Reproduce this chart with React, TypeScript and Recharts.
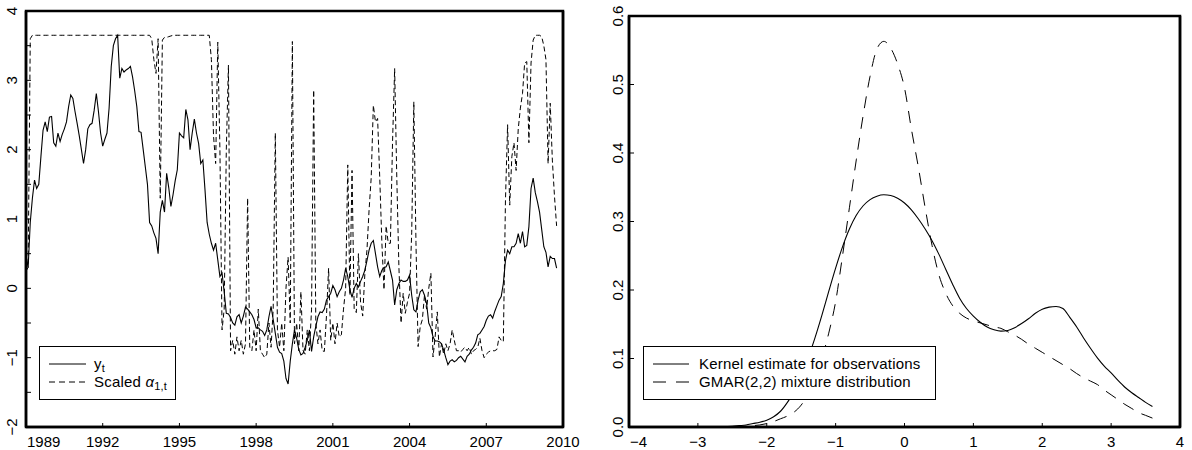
import React from 'react';
import { LineChart, Line, XAxis, YAxis, ReferenceArea } from 'recharts';

const FONT = '"Liberation Sans", Arial, Helvetica, sans-serif';

// monthly observations, first one is 1989:1
const firstYear = 1989;

const yt = [
  0.46, 0.3, 0.95, 1.3, 1.56, 1.44, 1.5, 1.9, 2.28, 2.4, 2.26, 2.47,
  2.48, 2.1, 2.05, 2.24, 2.12, 2.22, 2.3, 2.4, 2.62, 2.79, 2.74, 2.55,
  2.38, 2.2, 2.0, 1.8, 2.0, 2.3, 2.36, 2.38, 2.57, 2.81, 2.55, 2.24,
  2.05, 2.15, 2.24, 2.6, 3.2, 3.5, 3.6, 3.65, 3.03, 3.17, 3.12, 3.15,
  3.17, 3.2, 3.05, 2.85, 2.62, 2.26, 2.25, 2.0, 1.75, 1.5, 0.95, 0.9,
  0.8, 0.72, 0.5, 1.1, 1.27, 1.1, 1.66, 1.45, 1.18, 1.35, 1.55, 1.71,
  2.24, 2.2, 2.17, 2.58, 2.43, 2.0, 2.24, 2.44, 2.24, 2.09, 1.8, 1.85,
  1.42, 0.95, 0.78, 0.65, 0.55, 0.65, 0.41, 0.17, 0.22, -0.05, -0.36, -0.37,
  -0.42, -0.5, -0.53, -0.41, -0.38, -0.5, -0.4, -0.27, -0.3, -0.34, -0.38, -0.45,
  -0.57, -0.57, -0.6, -0.62, -0.68, -0.6, -0.41, -0.26, -0.45, -0.65, -0.85, -0.92,
  -0.94, -1.05, -1.3, -1.38, -1.05, -0.8, -0.6, -0.72, -0.88, -0.96, -0.94, -0.85,
  -0.75, -0.6, -0.91, -0.7, -0.55, -0.41, -0.34, -0.35, -0.3, -0.17, -0.12, -0.07,
  0.04, -0.02, -0.12, -0.05, 0.0, 0.12, 0.29, 0.17, -0.02, -0.13, 0.0, 0.07,
  0.02, 0.1, 0.17, 0.26, 0.4, 0.55, 0.65, 0.69, 0.5, 0.31, 0.17, 0.26,
  0.3, 0.31, 0.38, 0.25, 0.12, -0.24, -0.02, 0.07, 0.12, 0.1, 0.1, 0.12,
  0.19, -0.1, -0.31, -0.34, -0.17, -0.05, -0.02, -0.1, -0.22, -0.5, -0.57, -0.7,
  -0.76, -0.76, -0.77, -0.8, -0.89, -1.0, -1.1, -1.05, -1.03, -1.06, -1.04, -1.0,
  -0.98, -1.02, -1.06, -0.98, -0.95, -0.89, -0.85, -0.79, -0.67, -0.65, -0.6, -0.55,
  -0.46, -0.4, -0.38, -0.43, -0.33, -0.25, -0.17, -0.12, 0.07, 0.4, 0.55, 0.5,
  0.6, 0.6, 0.65, 0.79, 0.65, 0.82, 0.6, 0.62, 0.89, 1.44, 1.59, 1.38,
  1.25, 1.1, 0.85, 0.6, 0.52, 0.31, 0.46, 0.43, 0.43, 0.29,
];

const alphaScaled = [
  0.25, 0.3, 3.6, 3.65, 3.65, 3.65, 3.65, 3.65, 3.65, 3.65, 3.65, 3.65,
  3.65, 3.65, 3.65, 3.65, 3.65, 3.65, 3.65, 3.65, 3.65, 3.65, 3.65, 3.65,
  3.65, 3.65, 3.65, 3.65, 3.65, 3.65, 3.65, 3.65, 3.65, 3.65, 3.65, 3.65,
  3.65, 3.65, 3.65, 3.65, 3.65, 3.65, 3.65, 3.65, 3.65, 3.65, 3.65, 3.65,
  3.65, 3.65, 3.65, 3.65, 3.65, 3.65, 3.65, 3.65, 3.65, 3.65, 3.65, 3.6,
  3.3, 3.1, 3.6, 1.3, 3.58, 3.62, 3.62, 3.63, 3.64, 3.65, 3.65, 3.65,
  3.65, 3.65, 3.65, 3.65, 3.65, 3.65, 3.65, 3.65, 3.65, 3.65, 3.65, 3.65,
  3.65, 3.65, 3.65, 3.3, 2.2, 1.8, 3.55, 2.0, -0.6, -0.3, 2.0, 3.22,
  -0.9, -0.75, -0.95, -0.7, -0.9, -0.75, -0.95, -0.8, 1.3, -0.85, -0.9, -0.6,
  -0.9, -0.3, -0.9, -0.95, -1.0, -0.95, -0.5, -0.85, -0.3, 2.24, -0.6, -0.85,
  -0.5, -0.9, 0.0, 0.45, -0.5, 3.56, -0.8, -0.5, -0.9, -0.05, -0.9, -0.95,
  -0.6, -0.9, -0.3, 2.86, -0.5, -0.8, -0.6, -0.9, -0.91, -0.4, 0.29, -0.75,
  -0.5, -0.8, -0.5, -0.7, -0.67, -0.3, 0.0, 1.78, -0.1, 1.7, -0.3, -0.35,
  0.5, -0.2, -0.4, 0.2, 0.55, 1.13, 1.6, 2.64, 2.4, 2.45, 1.6, 0.66,
  -0.02, 0.9, 0.65, 0.65, 2.1, 3.17, 1.6, 0.3, -0.5, -0.07, -0.36, -0.2,
  -0.07, 0.8, 2.69, 0.66, -0.84, -0.55, -0.45, -0.1, -0.3, 0.0, 0.22, -0.99,
  -0.7, -0.34, -0.99, -0.8, -0.95, -0.8, -0.9, -0.8, -0.6, -0.75, -0.9, -0.9,
  -0.92, -0.88, -0.85, -0.9, -0.85, -0.95, -0.9, -0.88, -0.85, -0.72, -0.9, -1.0,
  -0.95, -0.92, -0.9, -0.9, -0.9, -0.88, -0.7, -0.75, -0.77, 1.27, 2.36, 1.2,
  1.9, 2.1, 1.7, 2.3, 2.6, 2.81, 3.25, 3.27, 2.1, 3.25, 3.58, 3.65,
  3.65, 3.65, 3.63, 3.5, 3.3, 1.8, 2.67, 1.85, 1.33, 0.9,
];

const yearTicks = [1989, 1992, 1995, 1998, 2001, 2004, 2007, 2010];
const innerYearTicks = [1992, 1995, 1998, 2001, 2004, 2007];
const seriesTicks = [-2, -1.5, -1, -0.5, 0, 0.5, 1, 1.5, 2, 2.5, 3, 3.5, 4];

// density evaluation grid
const gridX = [
  -4.0, -3.9, -3.8, -3.7, -3.6, -3.5, -3.4, -3.3, -3.2, -3.1,
  -3.0, -2.9, -2.8, -2.7, -2.6, -2.5, -2.4, -2.3, -2.2, -2.1,
  -2.0, -1.9, -1.8, -1.7, -1.6, -1.5, -1.4, -1.3, -1.2, -1.1,
  -1.0, -0.9, -0.8, -0.7, -0.6, -0.5, -0.4, -0.3, -0.2, -0.1,
  0.0, 0.1, 0.2, 0.3, 0.4, 0.5, 0.6, 0.7, 0.8, 0.9,
  1.0, 1.1, 1.2, 1.3, 1.4, 1.5, 1.6, 1.7, 1.8, 1.9,
  2.0, 2.1, 2.2, 2.3, 2.4, 2.5, 2.6, 2.7, 2.8, 2.9,
  3.0, 3.1, 3.2, 3.3, 3.4, 3.5, 3.6,
];

const kernel = [
  0, 0, 0, 0, 0, 0, 0, 0, 0, 0,
  0, 0, 0, 0, 0.0005, 0.001, 0.002, 0.003, 0.005, 0.007,
  0.01, 0.015, 0.023, 0.036, 0.052, 0.073, 0.1, 0.13, 0.163, 0.198,
  0.232, 0.263, 0.289, 0.309, 0.323, 0.332, 0.337, 0.339, 0.338, 0.334,
  0.327, 0.317, 0.304, 0.289, 0.272, 0.252, 0.23, 0.208, 0.188, 0.173,
  0.162, 0.153, 0.146, 0.142, 0.14, 0.141, 0.145, 0.151, 0.158, 0.166,
  0.172, 0.175, 0.176, 0.173, 0.16, 0.146, 0.13, 0.115, 0.101, 0.089,
  0.079, 0.068, 0.058, 0.05, 0.043, 0.036, 0.03,
];

const gmar = [
  0, 0, 0, 0, 0, 0, 0, 0, 0, 0,
  0, 0, 0, 0, 0, 0, 0.0005, 0.001, 0.002, 0.003,
  0.005, 0.008, 0.012, 0.016, 0.022, 0.032, 0.048, 0.07, 0.1, 0.137,
  0.183, 0.25, 0.32, 0.39, 0.455, 0.512, 0.552, 0.563, 0.553, 0.53,
  0.495, 0.435, 0.38, 0.32, 0.265, 0.222, 0.195, 0.177, 0.166, 0.159,
  0.155, 0.152, 0.149, 0.146, 0.144, 0.139, 0.134, 0.128, 0.121, 0.115,
  0.109, 0.103, 0.097, 0.091, 0.085, 0.078, 0.072, 0.067, 0.062, 0.054,
  0.047, 0.04, 0.033, 0.027, 0.021, 0.017, 0.013,
];

const densityXTicks = [-4, -3, -2, -1, 0, 1, 2, 3, 4];
const innerDensityXTicks = [-3, -2, -1, 0, 1, 2, 3];
const densityYTicks = [0, 0.1, 0.2, 0.3, 0.4, 0.5, 0.6];

const seriesRows = yt.map((v, i) => ({ t: firstYear + i / 12, y: v, a: alphaScaled[i] }));
const densityRows = gridX.map((x, i) => ({ x, k: kernel[i], g: gmar[i] }));

const minus = (s: string) => s.replace('-', '\u2212');

const XTick = (props: any) => {
  const { x, y, payload, first } = props;
  const isFirst = payload.value === first;
  return (
    <text
      x={isFirst ? x + 1 : x}
      y={y}
      dy="0.71em"
      textAnchor={isFirst ? 'start' : 'middle'}
      fontSize={15}
      fontFamily={FONT}
      fill="#000"
    >
      {minus(String(payload.value))}
    </text>
  );
};

const YTick = (props: any) => {
  const { x, y, payload, fmt } = props;
  const label = fmt(payload.value);
  if (label === null) return null;
  return (
    <text
      x={x}
      y={y}
      transform={`rotate(-90 ${x} ${y})`}
      textAnchor="middle"
      fontSize={15}
      fontFamily={FONT}
      fill="#000"
    >
      {label}
    </text>
  );
};

const axisLine = { stroke: '#000', strokeWidth: 2.5 };
const thinAxisLine = { stroke: '#000', strokeWidth: 2 };
const tickLine = { stroke: '#000', strokeWidth: 1 };

const legendBox: React.CSSProperties = {
  position: 'absolute',
  top: 346,
  height: 52,
  border: '1px solid #000',
  background: '#fff',
  fontFamily: FONT,
  fontSize: 15,
  letterSpacing: 0.2,
  color: '#000',
};

const LegendRow = ({ top, dash, lineW, textLeft, children }: any) => (
  <div style={{ position: 'absolute', left: 0, top, height: 18, width: '100%' }}>
    <svg width={lineW + 10} height={18} style={{ position: 'absolute', left: 0, top: 0 }}>
      <line x1={9} y1={9} x2={9 + lineW} y2={9} stroke="#000" strokeWidth={1} strokeDasharray={dash} />
    </svg>
    <div style={{ position: 'absolute', left: textLeft, top: 0, lineHeight: '18px', whiteSpace: 'nowrap' }}>
      {children}
    </div>
  </div>
);

export default function App() {
  return (
    <div style={{ position: 'absolute', left: 0, top: 0, width: 1192, height: 450, background: '#fff' }}>
      <div style={{ position: 'absolute', left: 0, top: 0 }}>
        <LineChart width={580} height={450} data={seriesRows} margin={{ top: 10, right: 16, bottom: 0, left: 0 }}>
          <XAxis
            dataKey="t"
            type="number"
            domain={[1989, 2010]}
            ticks={yearTicks}
            interval={0}
            allowDataOverflow
            height={23}
            axisLine={axisLine}
            tickLine={tickLine}
            tickSize={-4}
            tickMargin={13}
            tick={(p: any) => <XTick {...p} first={1989} />}
          />
          <XAxis
            xAxisId="top"
            dataKey="t"
            orientation="top"
            type="number"
            domain={[1989, 2010]}
            ticks={innerYearTicks}
            interval={0}
            allowDataOverflow
            height={1}
            axisLine={thinAxisLine}
            tickLine={tickLine}
            tickSize={-4}
            tick={false}
          />
          <YAxis
            type="number"
            domain={[-2, 4]}
            ticks={seriesTicks}
            interval={0}
            allowDataOverflow
            width={26}
            axisLine={axisLine}
            tickLine={tickLine}
            tickSize={-5}
            tickMargin={14}
            tick={(p: any) => (
              <YTick {...p} fmt={(v: number) => (Number.isInteger(v) ? minus(String(v)) : null)} />
            )}
          />
          <YAxis
            yAxisId="right"
            orientation="right"
            type="number"
            domain={[-2, 4]}
            ticks={seriesTicks.slice(1, -1)}
            interval={0}
            allowDataOverflow
            width={1}
            axisLine={axisLine}
            tickLine={tickLine}
            tickSize={-5}
            tick={false}
          />
          <ReferenceArea
            x1={1989}
            x2={2010}
            y1={-2}
            y2={4}
            fill="none"
            fillOpacity={0}
            stroke="#000"
            strokeWidth={2.5}
            ifOverflow="visible"
          />
          {/* invisible series keeps the mirrored frame axes alive */}
          <Line
            xAxisId="top"
            yAxisId="right"
            dataKey="y"
            stroke="none"
            strokeOpacity={0}
            dot={false}
            activeDot={false}
            isAnimationActive={false}
          />
          <Line
            dataKey="a"
            type="linear"
            stroke="#000"
            strokeWidth={1}
            strokeDasharray="5 3"
            dot={false}
            isAnimationActive={false}
          />
          <Line dataKey="y" type="linear" stroke="#000" strokeWidth={1.1} dot={false} isAnimationActive={false} />
        </LineChart>
      </div>

      <div style={{ position: 'absolute', left: 590, top: 0 }}>
        <LineChart width={602} height={450} data={densityRows} margin={{ top: 15, right: 11, bottom: 0, left: 0 }}>
          <XAxis
            dataKey="x"
            type="number"
            domain={[-4, 4]}
            ticks={densityXTicks}
            interval={0}
            allowDataOverflow
            height={23}
            axisLine={axisLine}
            tickLine={tickLine}
            tickSize={-4}
            tickMargin={13}
            tick={(p: any) => <XTick {...p} first={-4} />}
          />
          <XAxis
            xAxisId="top"
            dataKey="x"
            orientation="top"
            type="number"
            domain={[-4, 4]}
            ticks={innerDensityXTicks}
            interval={0}
            allowDataOverflow
            height={1}
            axisLine={thinAxisLine}
            tickLine={tickLine}
            tickSize={-4}
            tick={false}
          />
          <YAxis
            type="number"
            domain={[0, 0.6]}
            ticks={densityYTicks}
            interval={0}
            allowDataOverflow
            width={39}
            axisLine={axisLine}
            tickLine={tickLine}
            tickSize={-5}
            tickMargin={11}
            tick={(p: any) => <YTick {...p} fmt={(v: number) => v.toFixed(1)} />}
          />
          <YAxis
            yAxisId="right"
            orientation="right"
            type="number"
            domain={[0, 0.6]}
            ticks={densityYTicks.slice(1, -1)}
            interval={0}
            allowDataOverflow
            width={1}
            axisLine={axisLine}
            tickLine={tickLine}
            tickSize={-5}
            tick={false}
          />
          <ReferenceArea
            x1={-4}
            x2={4}
            y1={0}
            y2={0.6}
            fill="none"
            fillOpacity={0}
            stroke="#000"
            strokeWidth={2.5}
            ifOverflow="visible"
          />
          <Line
            xAxisId="top"
            yAxisId="right"
            dataKey="k"
            stroke="none"
            strokeOpacity={0}
            dot={false}
            activeDot={false}
            isAnimationActive={false}
          />
          <Line
            dataKey="g"
            type="monotone"
            stroke="#000"
            strokeWidth={1}
            strokeDasharray="12 9"
            dot={false}
            isAnimationActive={false}
          />
          <Line dataKey="k" type="monotone" stroke="#000" strokeWidth={1.1} dot={false} isAnimationActive={false} />
        </LineChart>
      </div>

      <div style={{ ...legendBox, left: 39, width: 135 }}>
        <LegendRow top={8} dash={undefined} lineW={37} textLeft={54}>
          y<sub style={{ fontSize: 11, verticalAlign: -3 }}>t</sub>
        </LegendRow>
        <LegendRow top={26} dash="6 4" lineW={37} textLeft={54}>
          Scaled <span style={{ fontStyle: 'italic' }}>α</span>
          <sub style={{ fontSize: 11, verticalAlign: -3 }}>1,t</sub>
        </LegendRow>
      </div>

      <div style={{ ...legendBox, left: 643, width: 291 }}>
        <LegendRow top={8} dash={undefined} lineW={36} textLeft={55}>
          Kernel estimate for observations
        </LegendRow>
        <LegendRow top={26} dash="13 10" lineW={36} textLeft={55}>
          GMAR(2,2) mixture distribution
        </LegendRow>
      </div>
    </div>
  );
}
